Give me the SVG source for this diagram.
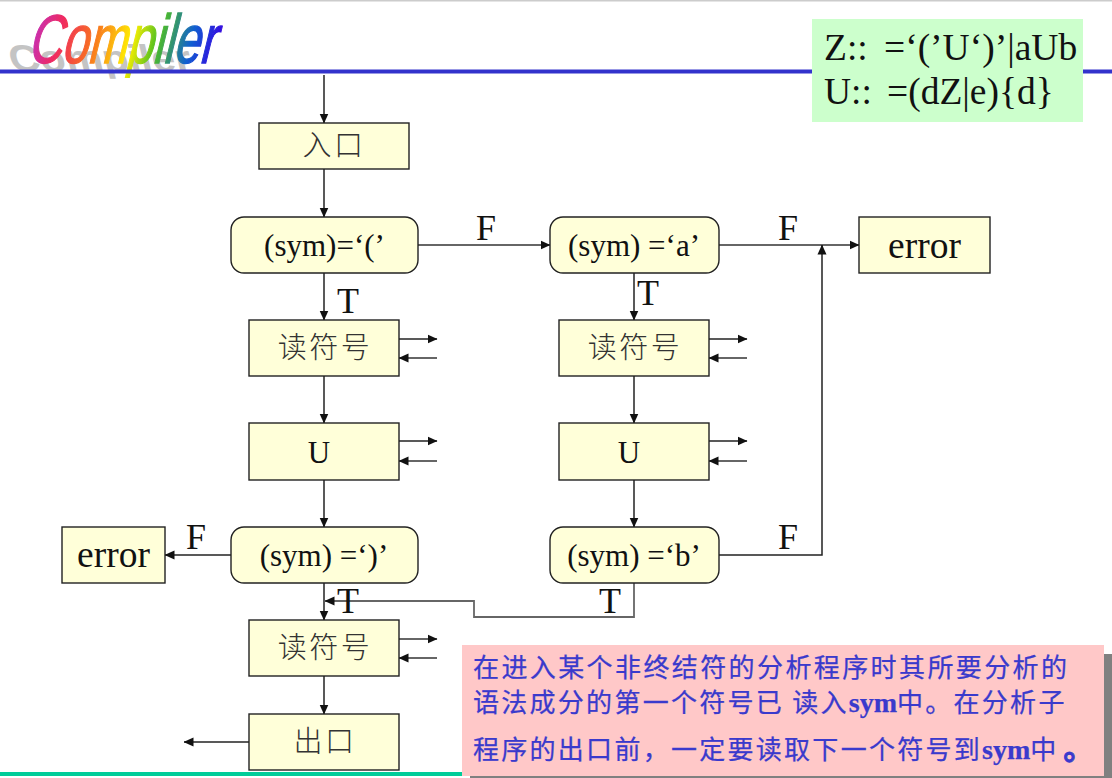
<svg xmlns="http://www.w3.org/2000/svg" width="1112" height="778" viewBox="0 0 1112 778">
<style>
.box{fill:#ffffd9;stroke:#222;stroke-width:1.4}
.t{font-family:"Liberation Serif","Noto Sans CJK SC",serif;fill:#111}
.s31{font-size:31px}
.s36{font-size:36px}
.s37{font-size:37.500px}
.c{text-anchor:middle}
.cjk{font-family:"Noto Sans CJK SC","Liberation Sans",sans-serif;font-size:29px;fill:#333;font-weight:300;text-anchor:middle;letter-spacing:2.500px}
.line{fill:none;stroke:#222;stroke-width:1.5}
.gray{stroke:#666;stroke-width:1.8}
.arr{marker-end:url(#a)}
.note{font-family:"Noto Sans CJK SC","Liberation Serif",sans-serif;font-size:26px;fill:#3a3acc;letter-spacing:2.400px;stroke:#3a3acc;stroke-width:.25}
.tight{letter-spacing:2.280px}
.b{font-family:"Liberation Serif",serif;font-weight:bold;letter-spacing:0;font-size:28px}
.dot{font-weight:bold;font-size:30px;stroke-width:1}
</style>
<defs>
<marker id="a" markerWidth="10" markerHeight="10" refX="9.500" refY="5" orient="auto" markerUnits="userSpaceOnUse"><path d="M0 .5L10 5L0 9.500Z" fill="#111"/></marker>
<linearGradient id="rb" gradientUnits="userSpaceOnUse" x1="-6" y1="0" x2="270" y2="0">
<stop offset="0" stop-color="#c030c0"/><stop offset=".14" stop-color="#f02a60"/><stop offset=".3" stop-color="#f87020"/><stop offset=".48" stop-color="#fff000"/><stop offset=".6" stop-color="#50c020"/><stop offset=".76" stop-color="#1060d0"/><stop offset=".88" stop-color="#3010e0"/><stop offset="1" stop-color="#a020b0"/>
</linearGradient>
</defs>
<rect width="1112" height="778" fill="#fff"/>
<rect x="0" y="0" width="1112" height="1.500" fill="#ccc"/>
<g id="logo">
<text transform="translate(12 71) scale(.7 .62) skewX(12)" font-family="Liberation Sans,sans-serif" font-size="60" font-weight="bold" fill="#c4c4c4">Compiler</text>
<text transform="translate(27 62.500) scale(.78 1.15) skewX(-20)" font-family="Liberation Sans,sans-serif" font-size="60" fill="url(#rb)" stroke="url(#rb)" stroke-width="1.200">Compiler</text>
</g>
<rect x="0" y="69.500" width="1112" height="4" fill="#3333cc"/>
<rect x="0" y="772" width="470" height="4" fill="#00cc99"/>
<g id="connectors">
<path class="line arr" d="M324 75V123"/>
<path class="line arr" d="M324 169V217"/>
<path class="line arr" d="M324 273V320"/>
<path class="line arr" d="M324 376V423"/>
<path class="line arr" d="M324 480V527"/>
<path class="line arr" d="M324 583V620"/>
<path class="line arr" d="M324 676V714"/>
<path class="line gray arr" d="M418 245H550"/>
<path class="line gray arr" d="M719 245H859"/>
<path class="line arr" d="M634 273V320"/>
<path class="line arr" d="M634 376V423"/>
<path class="line arr" d="M634 480V527"/>
<path class="line arr" d="M719 555H822V245"/>
<path class="line arr" d="M231 555H165"/>
<path class="line arr" d="M249 742H184"/>
<path class="line gray arr" d="M634 583V617H474V601H325"/>
<path class="line arr" d="M399 339H437"/><path class="line gray arr" d="M437 358H399"/>
<path class="line arr" d="M399 441H437"/><path class="line gray arr" d="M437 461H399"/>
<path class="line gray arr" d="M399 639H437"/><path class="line gray arr" d="M437 658H399"/>
<path class="line arr" d="M709 339H747"/><path class="line gray arr" d="M747 358H709"/>
<path class="line arr" d="M709 441H747"/><path class="line gray arr" d="M747 461H709"/>
</g>
<g id="entry"><rect class="box" x="259" y="123" width="150" height="46"/><text class="cjk" x="334" y="156">入口</text></g>
<g id="test-open"><rect class="box" x="231" y="217" width="187" height="56" rx="13"/><text class="t s31 c" x="324.500" y="256">(sym)=‘(’</text></g>
<g id="test-a"><rect class="box" x="550" y="217" width="169" height="56" rx="13"/><text class="t s31 c" x="634" y="256">(sym) =‘a’</text></g>
<g id="error-right"><rect class="box" x="859" y="217" width="131" height="56"/><text class="t s37 c" x="924.500" y="258">error</text></g>
<g id="read-1"><rect class="box" x="249" y="320" width="150" height="56"/><text class="cjk" x="325" y="358">读符号</text></g>
<g id="read-2"><rect class="box" x="559" y="320" width="150" height="56"/><text class="cjk" x="635" y="358">读符号</text></g>
<g id="u-left"><rect class="box" x="249" y="423" width="150" height="57"/><text class="t s31 c" x="319" y="463">U</text></g>
<g id="u-right"><rect class="box" x="559" y="423" width="150" height="57"/><text class="t s31 c" x="629" y="463">U</text></g>
<g id="test-close"><rect class="box" x="231" y="527" width="187" height="56" rx="13"/><text class="t s31 c" x="324" y="566">(sym) =‘)’</text></g>
<g id="test-b"><rect class="box" x="550" y="527" width="169" height="56" rx="13"/><text class="t s31 c" x="634" y="566">(sym) =‘b’</text></g>
<g id="error-left"><rect class="box" x="62" y="527" width="103" height="56"/><text class="t s37 c" x="113.500" y="567">error</text></g>
<g id="read-3"><rect class="box" x="249" y="620" width="150" height="56"/><text class="cjk" x="325" y="658">读符号</text></g>
<g id="exit"><rect class="box" x="249" y="714" width="150" height="56"/><text class="cjk" x="325" y="752">出口</text></g>
<g id="labels">
<text class="t s36" x="476" y="240">F</text>
<text class="t s36" x="778" y="240">F</text>
<text class="t s36" x="778" y="549">F</text>
<text class="t s36" x="186" y="549">F</text>
<text class="t s36" x="337" y="313">T</text>
<text class="t s36" x="637" y="305">T</text>
<text class="t s36" x="337" y="613">T</text>
<text class="t s36" x="599" y="613">T</text>
</g>
<g id="grammar"><rect x="812" y="19" width="271" height="103" fill="#ccffcc"/>
<text class="t s37" x="824" y="60">Z::<tspan x="884">=‘(’U‘)’|aUb</tspan></text>
<text class="t s37" x="824" y="104">U::<tspan x="887">=(dZ|e){d}</tspan></text></g>
<g id="note">
<rect x="470" y="654" width="642" height="124" fill="#808080"/>
<rect x="462" y="645" width="642" height="131" fill="#ffc8c8"/>
<text class="note" x="473" y="677">在进入某个非终结符的分析程序时其所要分析的</text>
<text class="note tight" x="473" y="712">语法成分的第一个符号已 读入<tspan class="b">sym</tspan>中。在分析子</text>
<text class="note tight" x="473" y="759">程序的出口前，一定要读取下一个符号到<tspan class="b">sym</tspan>中<tspan class="dot" dx="5">。</tspan></text>
</g>
</svg>
